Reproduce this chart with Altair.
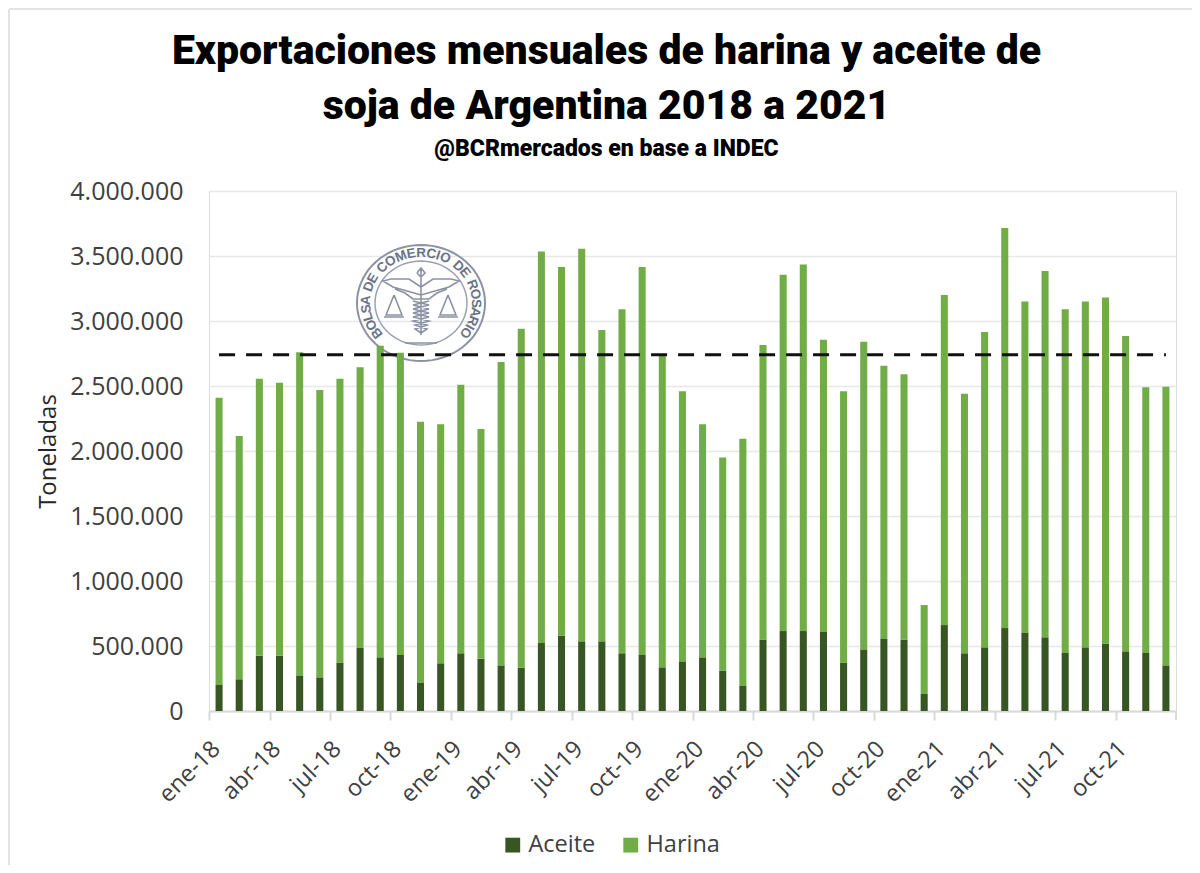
import math
import altair as alt
import pandas as pd

meses = [f"{m}-{a}" for a in ("18", "19", "20", "21")
         for m in ("ene", "feb", "mar", "abr", "may", "jun", "jul", "ago", "sep", "oct", "nov", "dic")]
aceite = [200, 244, 426, 426, 274, 259, 372, 485, 413, 431, 220, 367,
          444, 403, 351, 333, 523, 579, 536, 536, 444, 431, 336, 382,
          413, 310, 197, 549, 615, 615, 608, 372, 474, 554, 549, 131,
          661, 444, 490, 638, 600, 567, 446, 490, 518, 459, 446, 351]
harina = [2210, 1871, 2129, 2099, 2486, 2211, 2183, 2160, 2397, 2324, 2005, 1838,
          2066, 1767, 2334, 2607, 3012, 2836, 3019, 2394, 2646, 2984, 2404, 2078,
          1792, 1640, 1898, 2266, 2740, 2820, 2247, 2088, 2366, 2101, 2041, 684,
          2539, 1996, 2425, 3077, 2550, 2818, 2644, 2660, 2662, 2426, 2044, 2144]
promedio = 2740000
etiquetas = meses[::3]
series = ["Aceite", "Harina"]
colores = ["#375623", "#70AD47"]
titulo = ["Exportaciones mensuales de harina y aceite de", "soja de Argentina 2018 a 2021"]
subtitulo = "@BCRmercados  en base a INDEC"
sello = "BOLSA DE COMERCIO DE ROSARIO"

W, H = 967, 520
df = pd.DataFrame(
    [{"mes": m, "serie": "Aceite", "orden": 0, "valor": v * 1000} for m, v in zip(meses, aceite)]
    + [{"mes": m, "serie": "Harina", "orden": 1, "valor": v * 1000} for m, v in zip(meses, harina)]
)
df_prom = pd.DataFrame({"mes": meses, "valor": [promedio] * len(meses)})

FONT = "Open Sans"
x_scale = alt.Scale(domain=meses, paddingInner=0.65, paddingOuter=0.325)
y_scale = alt.Scale(domain=[0, 4000000])

# ---- decorative seal (pixel space) ----
cx, cy = 212, 112


def ellipse(rx, ry):
    pts = [(rx * math.cos(t * math.pi / 36) / 65, ry * math.sin(t * math.pi / 36) / 65) for t in range(72)]
    return "M" + " L".join(f"{a:.3f},{b:.3f}" for a, b in pts) + " Z"


def path(*polys):
    out = []
    for poly in polys:
        out.append("M" + " L".join(f"{a / 65:.3f},{b / 65:.3f}" for a, b in poly))
    return " ".join(out)


emblem = path(
    [(0, -34), (0, 32)],
    [(-4, -30), (0, -35), (4, -30), (0, -26), (-4, -30)],
    [(0, -16), (-12, -24), (-30, -24), (-38, -22), (-28, -16), (-14, -12), (0, -8)],
    [(0, -16), (12, -24), (30, -24), (38, -22), (28, -16), (14, -12), (0, -8)],
    [(-26, -14), (-16, -10), (-8, -4), (8, -4), (16, -10), (26, -14)],
    [(-27, -8), (-35, 12), (-19, 12), (-27, -8)],
    [(27, -8), (35, 12), (19, 12), (27, -8)],
    [(-37, 14), (-17, 14)], [(17, 14), (37, 14)],
    [(-8, -2), (8, 2), (-8, 6), (8, 10), (-8, 14), (8, 18), (-6, 22), (6, 26), (0, 30)],
    [(8, -2), (-8, 2), (8, 6), (-8, 10), (8, 14), (-8, 18), (6, 22), (-6, 26), (0, 30)],
    [(-16, 40), (16, 40)],
)
base = alt.Data(values=[{}])


def sym(shape, color, sw, opacity=1.0):
    return alt.Chart(base).mark_point(
        shape=shape, size=130 ** 2, filled=False, stroke=color, strokeWidth=sw, opacity=opacity
    ).encode(x=alt.value(cx), y=alt.value(cy))


# letters of the seal, spaced along the ring by their approximate widths
anchos = {"I": 0.4, " ": 0.55, "M": 1.25, "E": 0.95, "L": 0.85, "S": 0.95, "A": 1.0, "B": 1.0, "D": 1.05, "O": 1.15, "C": 1.05, "R": 1.05}
pesos = [anchos[c] for c in sello]
total = sum(pesos)
acum = 0.0
letras = []
for ch, p in zip(sello, pesos):
    a = -132 + 264 * (acum + p / 2) / total
    acum += p
    r = math.radians(a)
    letras.append({
        "ch": ch,
        "px": round(cx + 55 * math.sin(r), 1),
        "py": round(cy - 50 * math.cos(r), 1),
        "ang": round(a % 360, 1),
    })
seal_txt = alt.Chart(alt.Data(values=letras)).mark_text(
    x=alt.expr("datum.px"), y=alt.expr("datum.py"), font="Liberation Sans", fontSize=13.5,
    fontWeight="bold", color="#6b7486", baseline="middle", align="center",
).encode(text=alt.Text("ch:N"), angle=alt.Angle("ang:Q", scale=None))

# ---- frame: only the top and left edges show ----
frame_top = alt.Chart(base).mark_rule(color="#e3e3e3", strokeWidth=2).encode(
    x=alt.value(-200), x2=alt.value(983), y=alt.value(-182)
)
frame_left = alt.Chart(base).mark_rule(color="#e3e3e3", strokeWidth=2).encode(
    x=alt.value(-200), y=alt.value(-182), y2=alt.value(674)
)
# closing tick at the right end of the category axis
tick_fin = alt.Chart(base).mark_rule(color="#d9d9d9", strokeWidth=2).encode(
    x=alt.value(W), y=alt.value(H), y2=alt.value(H + 9)
)

bars = alt.Chart(df).mark_bar().encode(
    x=alt.X("mes:N", scale=x_scale, title=None, sort=meses,
            axis=alt.Axis(values=etiquetas, tickOffset=-10, labelAngle=-45, labelAlign="right",
                          labelBaseline="middle", labelOffset=7, labelPadding=25,
                          labelFont=FONT, labelFontSize=23.5, labelColor="#404040",
                          tickColor="#d9d9d9", tickSize=9, tickWidth=2,
                          domainColor="#d9d9d9", domainWidth=2, grid=False)),
    y=alt.Y("valor:Q", scale=y_scale, stack="zero", title="Toneladas",
            axis=alt.Axis(values=list(range(0, 4000001, 500000)),
                          labelExpr="replace(format(datum.value, ','), /,/g, '.')",
                          labelFont=FONT, labelFontSize=25, labelColor="#404040", labelPadding=26,
                          domain=False, ticks=False, gridColor="#e8e8e8", gridWidth=1.5,
                          titleFont=FONT, titleFontSize=24, titleColor="#262626", titleFontWeight="normal",
                          titleX=-149, titleY=260)),
    color=alt.Color("serie:N", scale=alt.Scale(domain=series, range=colores),
                    legend=alt.Legend(title=None, orient="none", direction="horizontal",
                                      legendX=292, legendY=642, symbolType="square", symbolSize=220,
                                      symbolStrokeWidth=0, labelFont=FONT, labelFontSize=23.5,
                                      labelColor="#404040", columnPadding=23, labelOffset=4)),
    order=alt.Order("orden:Q"),
)

line = alt.Chart(df_prom).mark_line(color="#111111", strokeWidth=3, strokeDash=[16, 11]).encode(
    x=alt.X("mes:N", scale=x_scale, sort=meses),
    y=alt.Y("valor:Q", scale=y_scale),
)

chart = alt.layer(
    frame_top,
    frame_left,
    tick_fin,
    sym(ellipse(64, 58), "#8b93a3", 2),
    sym(ellipse(46, 42), "#9aa1af", 1.5),
    sym(emblem, "#8b93a3", 1.6),
    seal_txt,
    bars,
    line,
).properties(
    width=W,
    height=H,
    padding={"left": 201, "top": 183, "right": 16, "bottom": 154},
    autosize=alt.AutoSizeParams(type="none"),
    title=alt.TitleParams(
        text=titulo, subtitle=subtitulo, anchor="middle", frame="group", dx=-86, offset=-154,
        font="Roboto", fontSize=41, fontWeight=900, color="#000000", lineHeight=55,
        subtitleFont="Roboto", subtitleFontSize=23, subtitleFontWeight=900,
        subtitleColor="#000000", subtitlePadding=10,
    ),
).configure_view(stroke=None).configure(background="#ffffff")

chart.save("out.html", embed_options={"renderer": "svg", "actions": False})
